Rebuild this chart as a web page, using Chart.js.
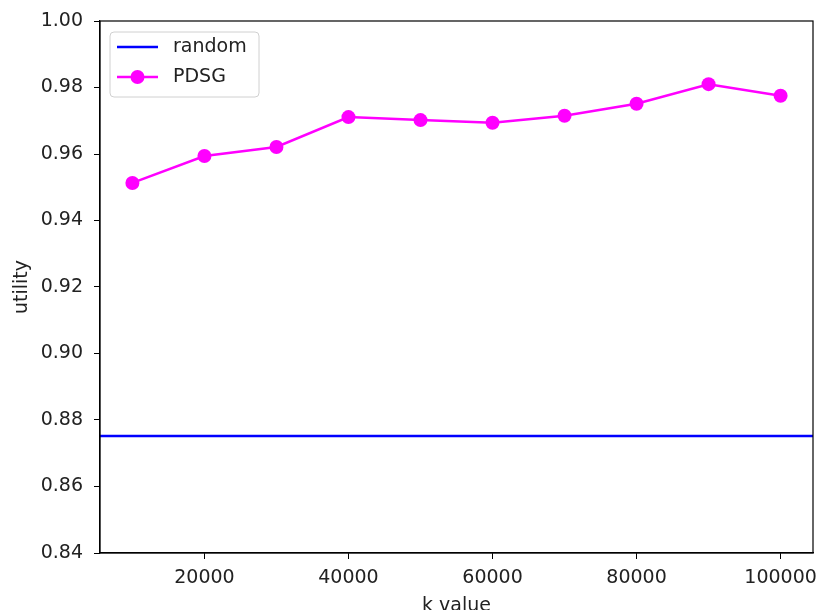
<!DOCTYPE html>
<html>
<head>
<meta charset="utf-8">
<script src="https://cdn.jsdelivr.net/npm/chart.js@4"></script>
<style>
  html, body { margin: 0; padding: 0; background: #fff; }
  #wrap { width: 820px; height: 610px; }
</style>
</head>
<body>
<div id="wrap"><canvas id="utilityChart" width="820" height="610"></canvas></div>
<script>
const kValues = [10000, 20000, 30000, 40000, 50000, 60000, 70000, 80000, 90000, 100000];
const pdsgUtility = [0.9513, 0.9594, 0.9621, 0.9711, 0.9702, 0.9694, 0.9715, 0.9751, 0.9810, 0.9775];
const randomUtility = 0.8752;
const xTicks = [20000, 40000, 60000, 80000, 100000];
const yTicks = [0.84, 0.86, 0.88, 0.90, 0.92, 0.94, 0.96, 0.98, 1.00];
const xMin = 5500, xMax = 104500;

const FONT = 'DejaVu Sans';
const FS = 19;

// matplotlib style frame + legend box
const framePlugin = {
  id: 'frame',
  afterDraw(chart) {
    const { ctx, chartArea: a } = chart;
    ctx.save();
    ctx.strokeStyle = '#000';
    ctx.lineWidth = 1.2;
    ctx.strokeRect(a.left, a.top, a.right - a.left, a.bottom - a.top);

    const bx = a.left + 10, by = a.top + 11, bw = 149, bh = 65;
    ctx.beginPath();
    ctx.roundRect(bx, by, bw, bh, 4);
    ctx.fillStyle = 'rgba(255,255,255,0.8)';
    ctx.fill();
    ctx.strokeStyle = '#d0d0d0';
    ctx.lineWidth = 1;
    ctx.stroke();

    chart.data.datasets.forEach((ds, i) => {
      const y = by + 15 + i * 30;
      ctx.strokeStyle = ds.borderColor;
      ctx.lineWidth = 2.5;
      ctx.beginPath();
      ctx.moveTo(bx + 7, y);
      ctx.lineTo(bx + 48, y);
      ctx.stroke();
      if (ds.pointRadius > 0) {
        ctx.fillStyle = ds.pointBackgroundColor;
        ctx.beginPath();
        ctx.arc(bx + 27.5, y, ds.pointRadius, 0, Math.PI * 2);
        ctx.fill();
      }
      ctx.fillStyle = '#222';
      ctx.font = FS + 'px "' + FONT + '"';
      ctx.textBaseline = 'middle';
      ctx.fillText(ds.label, bx + 63, y);
    });
    ctx.restore();
  }
};

new Chart(document.getElementById('utilityChart'), {
  type: 'line',
  data: {
    datasets: [
      {
        label: 'random',
        data: [{ x: xMin, y: randomUtility }, { x: xMax, y: randomUtility }],
        borderColor: '#0000ff',
        borderWidth: 2.5,
        pointRadius: 0,
      },
      {
        label: 'PDSG',
        data: kValues.map((k, i) => ({ x: k, y: pdsgUtility[i] })),
        borderColor: '#ff00ff',
        borderWidth: 2.5,
        pointRadius: 7,
        pointBackgroundColor: '#ff00ff',
        pointBorderWidth: 0,
        tension: 0,
      },
    ],
  },
  options: {
    responsive: false,
    animation: false,
    layout: { padding: { top: 21, right: 6, left: 0, bottom: 0 } },
    plugins: { legend: { display: false }, tooltip: { enabled: false } },
    scales: {
      x: {
        type: 'linear',
        min: xMin,
        max: xMax,
        afterBuildTicks: s => { s.ticks = xTicks.map(v => ({ value: v })); },
        afterFit: s => { s.height = 57; s.paddingLeft = 0; s.paddingRight = 0; },
        ticks: { color: '#222', font: { family: FONT, size: FS }, padding: 8, maxRotation: 0, callback: v => String(v) },
        grid: { drawOnChartArea: false, drawTicks: true, tickLength: 6, color: '#000' },
        border: { display: true, color: '#000', width: 1.2 },
        title: { display: true, text: 'k value', color: '#222', font: { family: FONT, size: FS }, padding: { top: 0, bottom: -7 } },
      },
      y: {
        type: 'linear',
        min: 0.84,
        max: 1.0,
        afterBuildTicks: s => { s.ticks = yTicks.map(v => ({ value: v })); },
        afterFit: s => { s.width = 100; s.paddingTop = 0; s.paddingBottom = 0; },
        ticks: { color: '#222', font: { family: FONT, size: FS }, padding: 11, callback: v => v.toFixed(2) },
        grid: { drawOnChartArea: false, drawTicks: true, tickLength: 6, color: '#000' },
        border: { display: true, color: '#000', width: 1.2 },
        title: { display: true, text: 'utility', color: '#222', font: { family: FONT, size: FS }, padding: { top: 11, bottom: 0 } },
      },
    },
  },
  plugins: [framePlugin],
});
</script>
</body>
</html>
